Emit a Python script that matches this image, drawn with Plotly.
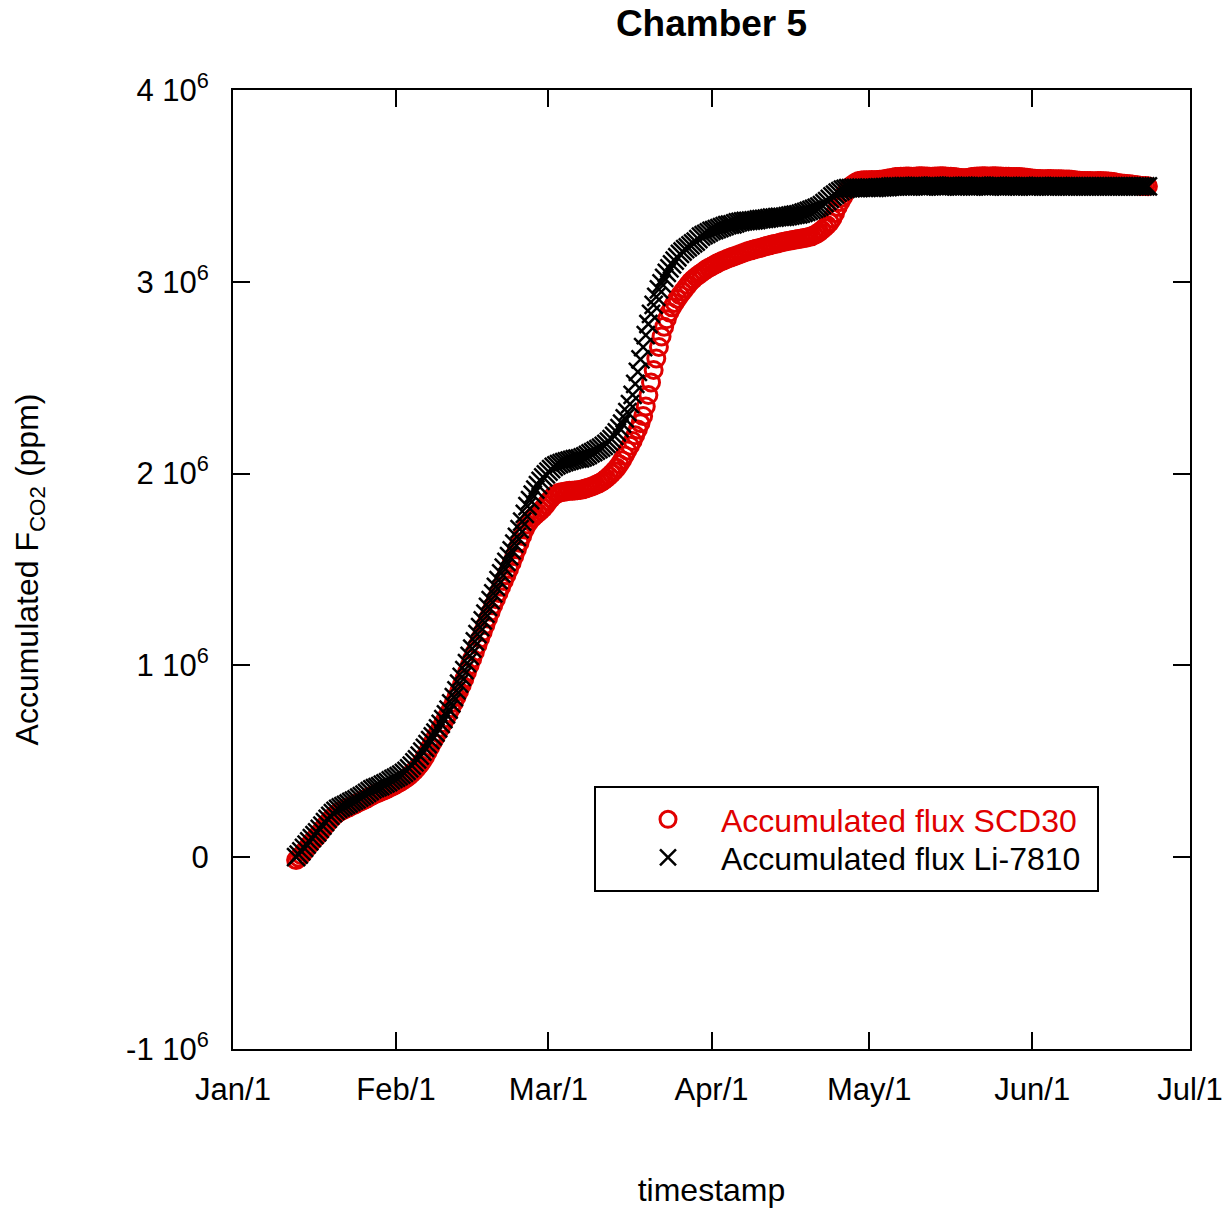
import pandas as pd
import plotly.graph_objects as go

# ---------------- data (values in units of 10^6 ppm, sampled every 12 h from 2024-01-13) ----------------
start_time = "2024-01-13 00:00"
sample_freq = "12h"

scd30_flux_mppm = [
    -0.015, -0.003, 0.010, 0.028, 0.045, 0.063, 0.080, 0.095, 0.110, 0.128,
    0.145, 0.163, 0.180, 0.196, 0.210, 0.222, 0.232, 0.240, 0.247, 0.254,
    0.260, 0.267, 0.273, 0.280, 0.287, 0.293, 0.300, 0.307, 0.315, 0.322,
    0.328, 0.334, 0.340, 0.346, 0.352, 0.358, 0.365, 0.372, 0.380, 0.387,
    0.395, 0.404, 0.413, 0.424, 0.437, 0.450, 0.465, 0.482, 0.500, 0.523,
    0.548, 0.574, 0.600, 0.625, 0.650, 0.675, 0.700, 0.725, 0.750, 0.777,
    0.805, 0.835, 0.865, 0.897, 0.930, 0.965, 1.000, 1.035, 1.070, 1.105,
    1.140, 1.175, 1.210, 1.245, 1.280, 1.313, 1.345, 1.378, 1.410, 1.440,
    1.470, 1.502, 1.535, 1.570, 1.605, 1.640, 1.675, 1.708, 1.735, 1.755,
    1.770, 1.783, 1.795, 1.807, 1.820, 1.837, 1.855, 1.871, 1.885, 1.894,
    1.900, 1.903, 1.905, 1.908, 1.910, 1.911, 1.912, 1.913, 1.915, 1.918,
    1.922, 1.926, 1.930, 1.936, 1.942, 1.948, 1.955, 1.964, 1.975, 1.987,
    2.000, 2.014, 2.030, 2.049, 2.070, 2.095, 2.120, 2.145, 2.170, 2.200,
    2.230, 2.263, 2.300, 2.350, 2.410, 2.475, 2.540, 2.600, 2.660, 2.715,
    2.765, 2.805, 2.840, 2.867, 2.890, 2.911, 2.930, 2.948, 2.965, 2.983,
    3.000, 3.013, 3.025, 3.035, 3.045, 3.055, 3.065, 3.073, 3.080, 3.088,
    3.095, 3.102, 3.108, 3.114, 3.120, 3.125, 3.130, 3.135, 3.140, 3.145,
    3.150, 3.155, 3.160, 3.164, 3.168, 3.172, 3.175, 3.179, 3.183, 3.187,
    3.190, 3.194, 3.197, 3.200, 3.203, 3.207, 3.210, 3.213, 3.215, 3.218,
    3.220, 3.223, 3.225, 3.228, 3.230, 3.233, 3.237, 3.243, 3.250, 3.259,
    3.270, 3.282, 3.295, 3.310, 3.330, 3.358, 3.390, 3.416, 3.440, 3.465,
    3.485, 3.500, 3.510, 3.519, 3.525, 3.528, 3.530, 3.530, 3.530, 3.531,
    3.530, 3.531, 3.532, 3.533, 3.535, 3.538, 3.540, 3.543, 3.546, 3.547,
    3.548, 3.548, 3.549, 3.549, 3.548, 3.548, 3.549, 3.550, 3.550, 3.549,
    3.549, 3.548, 3.548, 3.549, 3.549, 3.550, 3.550, 3.549, 3.548, 3.548,
    3.547, 3.545, 3.543, 3.541, 3.540, 3.541, 3.543, 3.546, 3.548, 3.549,
    3.549, 3.550, 3.550, 3.549, 3.549, 3.550, 3.550, 3.549, 3.549, 3.548,
    3.548, 3.548, 3.547, 3.547, 3.546, 3.546, 3.545, 3.544, 3.542, 3.540,
    3.538, 3.537, 3.536, 3.536, 3.535, 3.535, 3.536, 3.536, 3.535, 3.535,
    3.535, 3.535, 3.534, 3.534, 3.533, 3.532, 3.530, 3.528, 3.527, 3.526,
    3.525, 3.525, 3.525, 3.524, 3.524, 3.525, 3.525, 3.524, 3.524, 3.523,
    3.522, 3.520, 3.517, 3.514, 3.512, 3.511, 3.510, 3.509, 3.507, 3.505,
    3.503, 3.501, 3.500, 3.499, 3.498,
]

li7810_flux_mppm = [
    0.000, 0.014, 0.030, 0.048, 0.065, 0.083, 0.100, 0.115, 0.130, 0.148,
    0.165, 0.183, 0.200, 0.216, 0.230, 0.242, 0.252, 0.260, 0.266, 0.273,
    0.280, 0.288, 0.295, 0.302, 0.310, 0.318, 0.326, 0.335, 0.345, 0.353,
    0.360, 0.365, 0.371, 0.378, 0.385, 0.392, 0.400, 0.408, 0.415, 0.423,
    0.431, 0.440, 0.450, 0.463, 0.478, 0.494, 0.510, 0.530, 0.550, 0.570,
    0.590, 0.610, 0.630, 0.650, 0.672, 0.695, 0.720, 0.745, 0.770, 0.802,
    0.835, 0.870, 0.905, 0.940, 0.975, 1.012, 1.050, 1.088, 1.125, 1.163,
    1.200, 1.235, 1.270, 1.305, 1.340, 1.375, 1.410, 1.445, 1.480, 1.510,
    1.540, 1.570, 1.600, 1.635, 1.670, 1.710, 1.750, 1.790, 1.830, 1.862,
    1.890, 1.917, 1.940, 1.962, 1.980, 1.996, 2.010, 2.023, 2.035, 2.043,
    2.050, 2.055, 2.060, 2.064, 2.068, 2.072, 2.075, 2.078, 2.080, 2.085,
    2.090, 2.097, 2.105, 2.112, 2.120, 2.127, 2.135, 2.145, 2.155, 2.167,
    2.180, 2.197, 2.215, 2.237, 2.260, 2.288, 2.320, 2.362, 2.410, 2.468,
    2.530, 2.595, 2.660, 2.722, 2.780, 2.833, 2.880, 2.922, 2.960, 2.992,
    3.020, 3.046, 3.070, 3.091, 3.110, 3.128, 3.145, 3.158, 3.170, 3.180,
    3.190, 3.200, 3.210, 3.222, 3.235, 3.243, 3.250, 3.258, 3.265, 3.270,
    3.275, 3.280, 3.285, 3.290, 3.295, 3.298, 3.300, 3.305, 3.310, 3.313,
    3.315, 3.317, 3.318, 3.319, 3.320, 3.322, 3.325, 3.327, 3.328, 3.330,
    3.332, 3.334, 3.335, 3.337, 3.338, 3.339, 3.340, 3.342, 3.345, 3.348,
    3.350, 3.352, 3.355, 3.360, 3.365, 3.370, 3.375, 3.380, 3.385, 3.392,
    3.400, 3.410, 3.420, 3.432, 3.445, 3.455, 3.465, 3.473, 3.480, 3.485,
    3.488, 3.489, 3.490, 3.490, 3.490, 3.491, 3.490, 3.490, 3.491, 3.490,
    3.490, 3.491, 3.492, 3.492, 3.493, 3.494, 3.496, 3.497, 3.498, 3.498,
    3.498, 3.499, 3.499, 3.498, 3.498, 3.499, 3.500, 3.499, 3.498, 3.498,
    3.499, 3.499, 3.500, 3.500, 3.499, 3.498, 3.498, 3.499, 3.499, 3.500,
    3.500, 3.499, 3.498, 3.498, 3.499, 3.499, 3.498, 3.498, 3.499, 3.500,
    3.500, 3.499, 3.499, 3.498, 3.498, 3.499, 3.499, 3.500, 3.499, 3.498,
    3.498, 3.499, 3.499, 3.498, 3.498, 3.498, 3.499, 3.499, 3.498, 3.498,
    3.498, 3.498, 3.499, 3.499, 3.498, 3.497, 3.497, 3.498, 3.498, 3.498,
    3.499, 3.498, 3.498, 3.497, 3.497, 3.498, 3.498, 3.498, 3.497, 3.497,
    3.497, 3.498, 3.498, 3.497, 3.497, 3.497, 3.498, 3.498, 3.497, 3.497,
    3.497, 3.497, 3.498, 3.498, 3.497, 3.497, 3.497, 3.498, 3.498, 3.497,
    3.497, 3.497, 3.498, 3.498, 3.497,
]

x_tick_dates = ["2024-01-01", "2024-02-01", "2024-03-01", "2024-04-01",
                "2024-05-01", "2024-06-01", "2024-07-01"]
x_tick_labels = ["Jan/1", "Feb/1", "Mar/1", "Apr/1", "May/1", "Jun/1", "Jul/1"]

y_tick_values = [-1e6, 0, 1e6, 2e6, 3e6, 4e6]
y_tick_labels = ["-1 10<sup>6</sup>", "0", "1 10<sup>6</sup>", "2 10<sup>6</sup>",
                 "3 10<sup>6</sup>", "4 10<sup>6</sup>"]

# ---------------- figure ----------------
RED = "#e00000"
FONT = "Liberation Sans, Arial, Helvetica, sans-serif"

t_scd30 = pd.date_range(start_time, periods=len(scd30_flux_mppm), freq=sample_freq)
t_li = pd.date_range(start_time, periods=len(li7810_flux_mppm), freq=sample_freq)

fig = go.Figure()
fig.add_trace(go.Scatter(
    x=t_scd30, y=[v * 1e6 for v in scd30_flux_mppm], mode="markers",
    name='<span style="color:%s">Accumulated flux SCD30</span>' % RED,
    legend="legend",
    marker=dict(symbol="circle-open", size=17, color=RED, line=dict(width=3, color=RED)),
))
fig.add_trace(go.Scatter(
    x=t_li, y=[v * 1e6 for v in li7810_flux_mppm], mode="markers",
    name="Accumulated flux Li-7810",
    legend="legend2",
    marker=dict(symbol="x-thin", size=18, color="black", line=dict(width=2.5, color="black")),
))

axis_common = dict(
    showline=True, linewidth=2, linecolor="black", mirror="ticks",
    ticks="inside", ticklen=17, tickwidth=2, tickcolor="black",
    showgrid=False, zeroline=False,
    tickfont=dict(family=FONT, size=31, color="black"),
)

fig.update_xaxes(
    type="date", range=["2024-01-01", "2024-07-01"],
    tickmode="array", tickvals=x_tick_dates, ticktext=x_tick_labels,
    ticklabelstandoff=12,
    title=dict(text="timestamp", font=dict(family=FONT, size=32, color="black"), standoff=72),
    **axis_common,
)
fig.update_yaxes(
    range=[-1e6, 4e6],
    tickmode="array", tickvals=y_tick_values, ticktext=y_tick_labels,
    ticklabelstandoff=16,
    title=dict(text="Accumulated F<sub>CO2</sub> (ppm)",
               font=dict(family=FONT, size=32, color="black"), standoff=78),
    **axis_common,
)

# legend box
fig.add_shape(type="rect", xref="paper", yref="paper",
              x0=(595 - 233) / 957, x1=(1098 - 233) / 957,
              y0=(1049 - 891) / 959, y1=(1049 - 787) / 959,
              line=dict(color="black", width=2), fillcolor="rgba(0,0,0,0)")

legend_common = dict(xref="paper", yref="paper", xanchor="left", yanchor="top",
                     bgcolor="rgba(0,0,0,0)", borderwidth=0,
                     font=dict(family=FONT, size=32, color="black"), itemwidth=96)

fig.update_layout(
    width=1230, height=1209,
    margin=dict(l=225, r=48, t=82, b=168),
    paper_bgcolor="white", plot_bgcolor="white",
    font=dict(family=FONT, size=31, color="black"),
    title=dict(text="<b>Chamber 5</b>", x=0.5, xref="paper", xanchor="center",
               y=1 - 15 / 1209, yref="container", yanchor="middle",
               font=dict(family=FONT, size=37, color="black")),
    legend=dict(x=(615 - 233) / 957, y=(1049 - 792) / 959, **legend_common),
    legend2=dict(x=(615 - 233) / 957, y=(1049 - 830) / 959, **legend_common),
    showlegend=True,
)

fig.write_html("out.html")
